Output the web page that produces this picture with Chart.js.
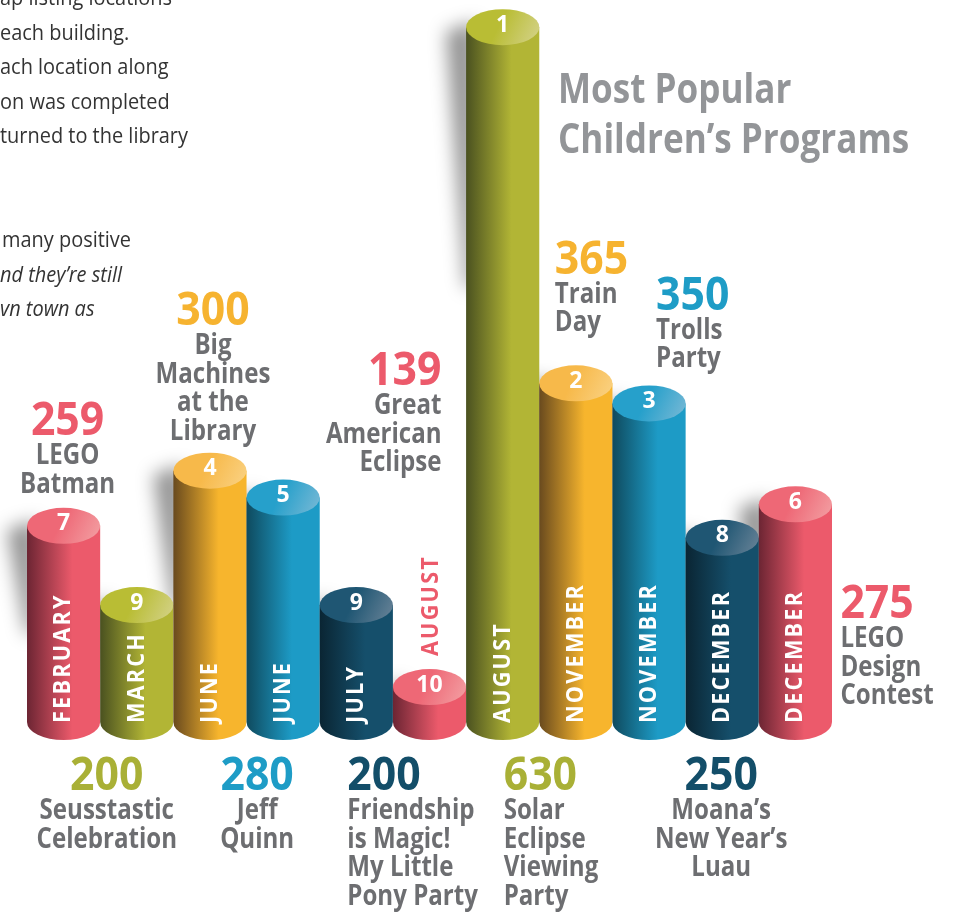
<!DOCTYPE html>
<html>
<head>
<meta charset="utf-8">
<script src="https://cdn.jsdelivr.net/npm/chart.js@4.4.0/dist/chart.umd.min.js"></script>
<style>
  html, body { margin: 0; padding: 0; background: #fff; }
  #wrap { width: 956px; height: 914px; }
</style>
</head>
<body>
<div id="wrap"><canvas id="chart" width="956" height="914"></canvas></div>
<script>
// data
const months = ["FEBRUARY", "MARCH", "JUNE", "JUNE", "JULY", "AUGUST", "AUGUST", "NOVEMBER", "NOVEMBER", "DECEMBER", "DECEMBER"];
const attendance = [259, 200, 300, 280, 200, 139, 630, 365, 350, 250, 275];
const ranks = [7, 9, 4, 5, 9, 10, 1, 2, 3, 8, 6];
const programs = [
  ["LEGO", "Batman"],
  ["Seusstastic", "Celebration"],
  ["Big", "Machines", "at the", "Library"],
  ["Jeff", "Quinn"],
  ["Friendship", "is Magic!", "My Little", "Pony Party"],
  ["Great", "American", "Eclipse"],
  ["Solar", "Eclipse", "Viewing", "Party"],
  ["Train", "Day"],
  ["Trolls", "Party"],
  ["Moana’s", "New Year’s", "Luau"],
  ["LEGO", "Design", "Contest"]
];
const colorKeys = ["red", "olive", "orange", "blue", "navy", "red", "olive", "orange", "blue", "navy", "red"];
const titleLines = ["Most Popular", "Children’s Programs"];
const introLines = ["ap listing locations", "each building.", "ach location along", "on was completed", "turned to the library"];
const quoteLines = ["many positive", "nd they’re still", "vn town as"];

const palette = {
  red:    { main: "#ec5a6b", dark: "#6c2533", capL: "#ee6876", capR: "#f3a2a5", text: "#ec5a6b" },
  olive:  { main: "#b2b535", dark: "#4a5120", capL: "#b9bd34", capR: "#d5d38d", text: "#a9b036" },
  orange: { main: "#f7b52d", dark: "#694a1e", capL: "#f7b94a", capR: "#fad386", text: "#f6b330" },
  blue:   { main: "#1d9bc6", dark: "#0f4a5e", capL: "#26a0cb", capR: "#7cbad6", text: "#1e9cc6" },
  navy:   { main: "#154f6b", dark: "#0a2533", capL: "#1f5673", capR: "#6c8599", text: "#134e69" }
};

// where each value + program name goes, relative to its bar
const notes = [
  { side: "above", align: "center", dx: 4, gap: 31 },
  { side: "below", align: "center", dx: -30 },
  { side: "above", align: "center", dx: 3, gap: 29 },
  { side: "below", align: "center", dx: -26 },
  { side: "below", align: "left", dx: -9 },
  { side: "above", align: "right", dx: 12, gap: 214, monthAbove: true },
  { side: "below", align: "left", dx: 1 },
  { side: "above", align: "left", dx: -21, gap: 50 },
  { side: "above", align: "left", dx: 7, gap: 34 },
  { side: "below", align: "center", dx: -1 },
  { side: "right", align: "left", dx: 45, drop: 114 }
];

const FONT = '"Open Sans", sans-serif';
const GRAY = "#6d6e71";
const RY = 18;

function txt(ctx, s, x, y, size, color, align, sx, style) {
  ctx.save();
  ctx.font = (style || "bold") + " " + size + "px " + FONT;
  ctx.fillStyle = color;
  ctx.textAlign = align;
  ctx.textBaseline = "alphabetic";
  ctx.translate(x, y);
  ctx.scale(sx, 1);
  ctx.fillText(s, 0, 0);
  ctx.restore();
}

function vtxt(ctx, s, x, y, size, color) {
  ctx.save();
  ctx.font = "bold " + size + "px " + FONT;
  ctx.fillStyle = color;
  ctx.textAlign = "left";
  ctx.textBaseline = "middle";
  ctx.letterSpacing = "2.5px";
  ctx.translate(x, y);
  ctx.rotate(-Math.PI / 2);
  ctx.scale(0.9, 1);
  ctx.fillText(s, 0, 0);
  ctx.restore();
}

const cylinders = {
  id: "cylinders",
  afterDatasetsDraw(chart) {
    const ctx = chart.ctx;
    const yScale = chart.scales.y;
    const floor = yScale.getPixelForValue(yScale.min);
    const bars = chart.getDatasetMeta(0).data;

    // soft shadows first, so later bars sit on top of them
    bars.forEach((b) => {
      const l = b.x - b.width / 2;
      const len = Math.min(260, (floor - b.y) * 0.55);
      ctx.save();
      ctx.filter = "blur(9px)";
      ctx.fillStyle = "rgba(0,0,0,0.42)";
      ctx.beginPath();
      ctx.moveTo(l - 20, b.y + 4);
      ctx.lineTo(l + 10, b.y - 6);
      ctx.lineTo(l + 10, b.y + len);
      ctx.lineTo(l - 1, b.y + len);
      ctx.closePath();
      ctx.fill();
      ctx.restore();
    });

    bars.forEach((b, i) => {
      const c = palette[colorKeys[i]];
      const rx = b.width / 2;
      const l = b.x - rx, r = b.x + rx;

      const g = ctx.createLinearGradient(l, 0, r, 0);
      g.addColorStop(0, c.dark);
      g.addColorStop(0.62, c.main);
      g.addColorStop(1, c.main);
      ctx.fillStyle = g;
      ctx.beginPath();
      ctx.moveTo(l, b.y);
      ctx.lineTo(l, floor);
      ctx.ellipse(b.x, floor, rx, RY, 0, Math.PI, 0, true);
      ctx.lineTo(r, b.y);
      ctx.closePath();
      ctx.fill();

      const cg = ctx.createLinearGradient(l, b.y - RY, r, b.y + RY);
      cg.addColorStop(0, c.capL);
      cg.addColorStop(0.45, c.capL);
      cg.addColorStop(1, c.capR);
      ctx.fillStyle = cg;
      ctx.beginPath();
      ctx.ellipse(b.x, b.y, rx, RY, 0, 0, Math.PI * 2);
      ctx.fill();

      // rank on the lid
      ctx.save();
      ctx.font = "bold 23px " + FONT;
      ctx.fillStyle = "#fff";
      ctx.textAlign = "center";
      ctx.textBaseline = "middle";
      ctx.fillText(String(ranks[i]), b.x, b.y - 2);
      ctx.restore();

      const n = notes[i];
      if (n.monthAbove) {
        vtxt(ctx, months[i], b.x + 2, b.y - RY - 13, 24, c.text);
      } else {
        vtxt(ctx, months[i], b.x, floor + 1, 24, "#fff");
      }

      // value + program name
      const lines = programs[i];
      const x = b.x + n.dx;
      let y0;
      if (n.side === "above") y0 = b.y - n.gap - 28.5 * (lines.length - 1) - 31;
      else if (n.side === "below") y0 = 790;
      else y0 = b.y + n.drop;
      txt(ctx, String(attendance[i]), x, y0, 46, c.text, n.align, 0.93);
      lines.forEach((s, k) => {
        txt(ctx, s, x, y0 + 29 + 28.5 * k, 28, GRAY, n.align, 0.86);
      });
    });

    // title
    txt(ctx, titleLines[0], 558, 103, 42, "#939598", "left", 0.835);
    txt(ctx, titleLines[1], 558, 153, 42, "#939598", "left", 0.835);

    // cut-off article text on the left
    introLines.forEach((s, k) => txt(ctx, s, 0, 5 + 34.5 * k, 21, "#333333", "left", 0.95, "normal"));
    quoteLines.forEach((s, k) => txt(ctx, s, k === 0 ? 2 : 0, 247 + 34.5 * k, 21, "#333333", "left", 0.95, k === 0 ? "normal" : "italic"));
  }
};

const ctx = document.getElementById("chart").getContext("2d");
new Chart(ctx, {
  type: "bar",
  data: {
    labels: months,
    datasets: [{
      label: "Attendance",
      data: attendance,
      backgroundColor: "rgba(0,0,0,0)",
      borderWidth: 0,
      barPercentage: 1,
      categoryPercentage: 1
    }]
  },
  options: {
    responsive: false,
    animation: false,
    layout: { padding: { left: 27, right: 124, top: 7, bottom: 192 } },
    scales: {
      x: { display: false },
      y: { display: false, min: 113, max: 645 }
    },
    plugins: {
      legend: { display: false },
      tooltip: { enabled: false }
    }
  },
  plugins: [cylinders]
});
</script>
</body>
</html>
